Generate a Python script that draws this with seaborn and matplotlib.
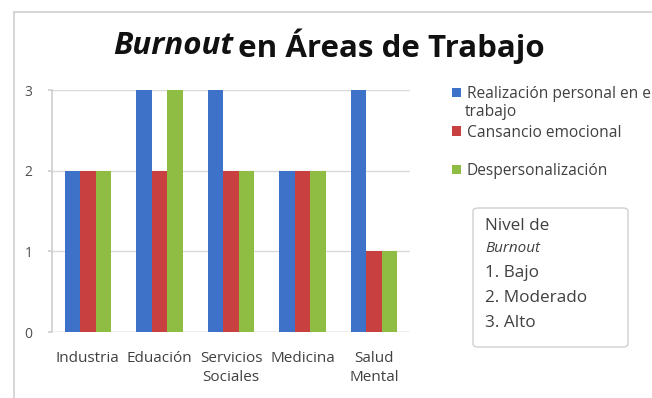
import matplotlib
matplotlib.use("Agg")
import matplotlib.pyplot as plt
from matplotlib.lines import Line2D
from matplotlib.patches import FancyBboxPatch
import seaborn as sns
import pandas as pd

# Work areas and burnout-dimension levels (1 = low, 2 = moderate, 3 = high)
areas = ["Industria", "Eduación", "Servicios\nSociales", "Medicina", "Salud\nMental"]
realizacion = [2, 3, 3, 2, 3]
cansancio = [2, 2, 2, 2, 1]
despersonalizacion = [2, 3, 2, 2, 1]

series_names = ["Realización personal en el", "Cansancio emocional", "Despersonalización"]
series_colors = ["#3d72c8", "#c8403f", "#8fbd43"]
y_ticks = [0, 1, 2, 3]
nivel_lines = ["1. Bajo", "2. Moderado", "3. Alto"]

rows = []
for name, vals in zip(series_names, [realizacion, cansancio, despersonalizacion]):
    for a, v in zip(areas, vals):
        rows.append({"area": a, "serie": name, "nivel": v})
df = pd.DataFrame(rows)

sns.set_theme(style="white")
plt.rcParams["font.family"] = ["Open Sans", "DejaVu Sans"]

W, H = 652, 398
fig = plt.figure(figsize=(W / 100, H / 100), dpi=100)
fig.patch.set_facecolor("white")


def fx(px):
    return px / W


def fy(py):
    return 1 - py / H


ax = fig.add_axes([fx(52), fy(332), fx(410) - fx(52), fy(90) - fy(332)])

sns.barplot(data=df, x="area", y="nivel", hue="serie", order=areas,
            hue_order=series_names, palette=series_colors, saturation=1,
            width=0.65, linewidth=0, ax=ax, legend=True)

ax.set_ylim(0, 3)
ax.set_yticks(y_ticks)
ax.set_xlabel("")
ax.set_ylabel("")
ax.yaxis.grid(True, color="#d9d9d9", linewidth=1)
ax.set_axisbelow(True)
for side in ["top", "right", "bottom"]:
    ax.spines[side].set_visible(False)
ax.spines["left"].set_color("#d0d0d0")
ax.axhline(0, color="#d0d0d0", linewidth=1, zorder=0)
ax.tick_params(axis="y", left=True, length=3, color="#d0d0d0", pad=11,
               labelsize=10, labelcolor="#505050")
ax.tick_params(axis="x", bottom=False, pad=8, labelsize=11, labelcolor="#404040")
for lbl in ax.get_xticklabels():
    lbl.set_linespacing(1.3)

# legend to the right of the plot
handles, labels = ax.get_legend_handles_labels()
ax.get_legend().remove()
fig.legend(handles, labels, loc="upper left", bbox_to_anchor=(fx(438), fy(72)),
           frameon=False, fontsize=11.2, handlelength=0.55, handleheight=0.55,
           handletextpad=0.4, labelspacing=1.45, labelcolor="#404040")
fig.text(fx(465), fy(112), "trabajo", fontsize=11.2, color="#404040", va="center")

# title with the italic term
renderer = fig.canvas.get_renderer()
t1 = fig.text(0, fy(46), "Burnout", fontsize=22.5, fontweight="bold",
              fontstyle="italic", va="center", color="#111111")
t2 = fig.text(0, fy(46), " en Áreas de Trabajo", fontsize=22.5, fontweight="bold",
              va="center", color="#111111")
w1 = t1.get_window_extent(renderer).width - 4
w2 = t2.get_window_extent(renderer).width
x0 = 329 - (w1 + w2) / 2
t1.set_x(fx(x0))
t2.set_x(fx(x0 + w1))

# outer chart border (left and top edges)
fig.add_artist(Line2D([fx(14), fx(14)], [fy(12), 0], transform=fig.transFigure,
                      color="#cfcfcf", linewidth=1.2))
fig.add_artist(Line2D([fx(14), 1], [fy(12), fy(12)], transform=fig.transFigure,
                      color="#cfcfcf", linewidth=1.2))

# burnout level key box
box = FancyBboxPatch((fx(473), fy(347)), fx(628) - fx(473), fy(208) - fy(347),
                     boxstyle="round,pad=0,rounding_size=0.008",
                     transform=fig.transFigure, facecolor="white",
                     edgecolor="#d0d0d0", linewidth=1)
fig.add_artist(box)
fig.text(fx(485), fy(226), "Nivel de", fontsize=12.3, color="#404040", va="center")
fig.text(fx(485), fy(249), "Burnout", fontsize=11, fontstyle="italic",
         color="#404040", va="center")
for i, line in enumerate(nivel_lines):
    fig.text(fx(485), fy(273 + 25 * i), line, fontsize=12.3, color="#404040",
             va="center")

fig.savefig("out.png", dpi=100, facecolor="white")
